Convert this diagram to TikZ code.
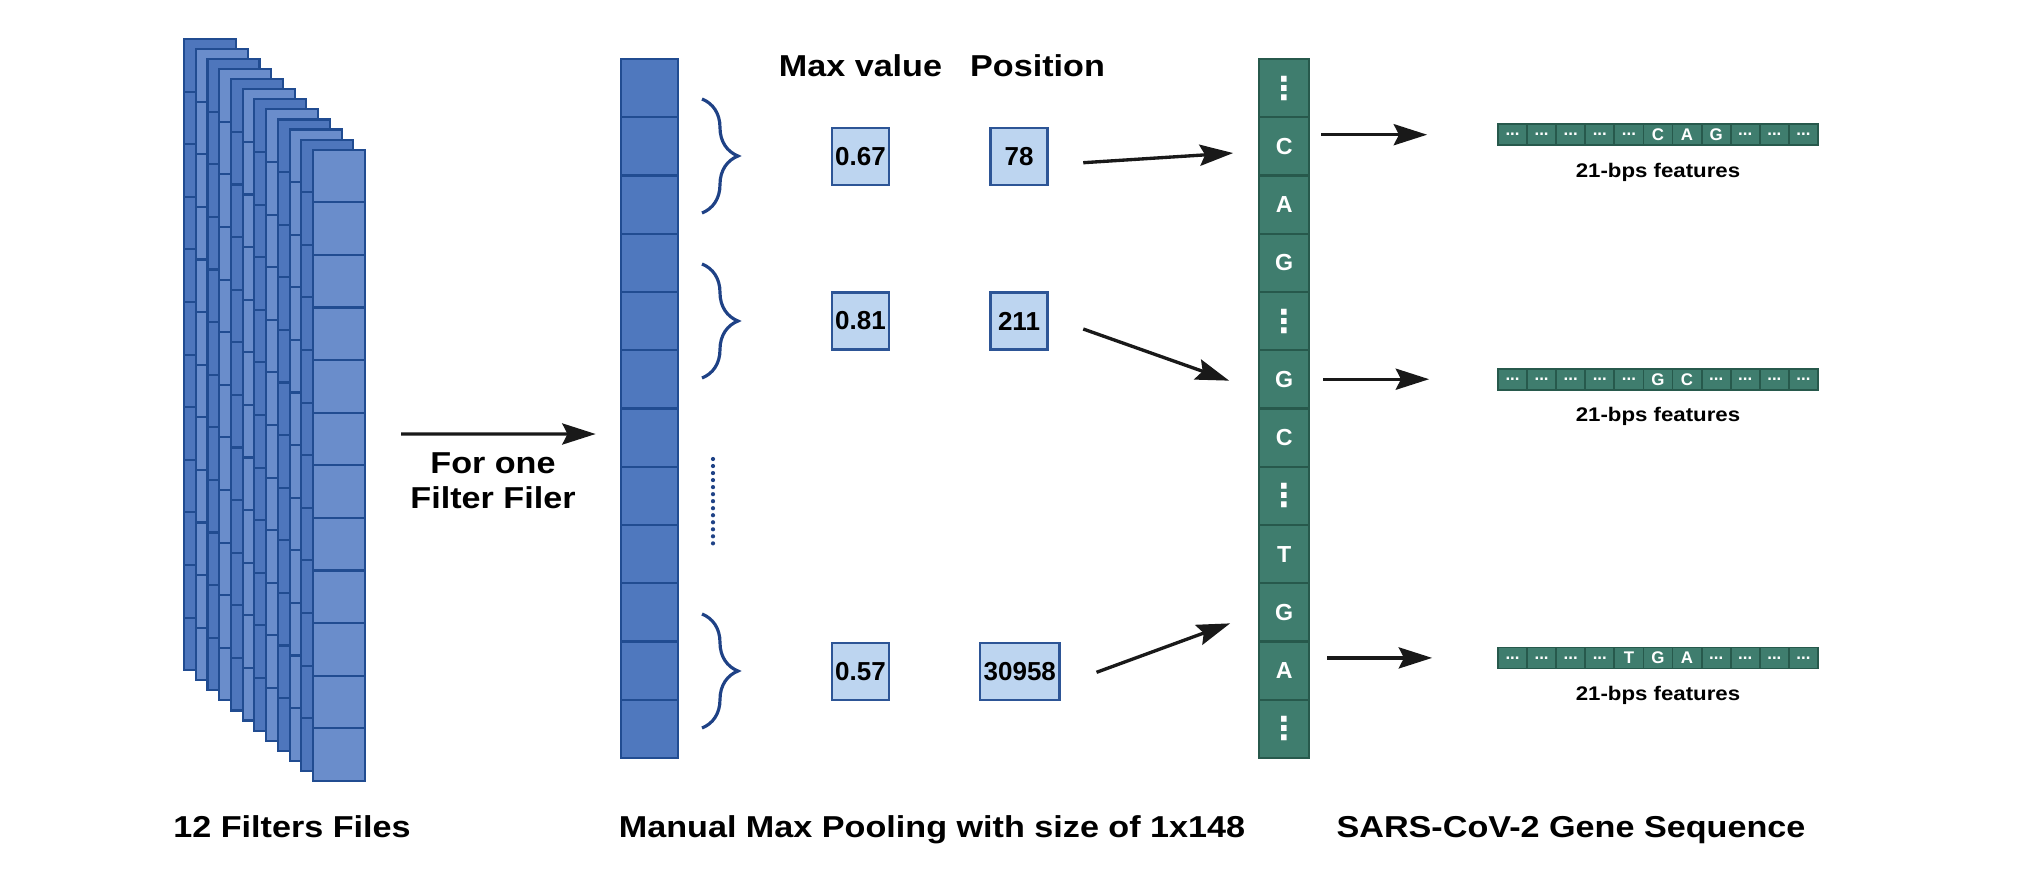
\documentclass[tikz,border=0pt]{standalone}
\usepackage{fontspec}
\setmainfont{Liberation Sans}
\newfontfamily\widefont[FakeStretch=1.13]{Liberation Sans}
\newfontfamily\dotsfont{DejaVu Sans}
\usetikzlibrary{arrows.meta,positioning,decorations.pathreplacing}
\definecolor{filtdark}{RGB}{78,118,188}
\definecolor{filtlight}{RGB}{106,141,203}
\definecolor{filtline}{RGB}{33,76,145}
\definecolor{poolblue}{RGB}{79,120,190}
\definecolor{valfill}{RGB}{189,213,240}
\definecolor{valline}{RGB}{45,85,150}
\definecolor{genegreen}{RGB}{63,125,110}
\definecolor{geneline}{RGB}{39,89,76}
\definecolor{bracecol}{RGB}{31,66,134}
\newcommand{\gdots}{{\dotsfont\fontsize{9}{9}\selectfont ⋮}}
\newcommand{\fdots}{...}

\begin{document}
\begin{tikzpicture}[x=0.1mm, y=-0.1mm,
        fcell/.style={draw=filtline, line width=0.6pt, minimum width=5.2mm, minimum height=5.26mm, inner sep=0},
        pcell/.style={draw=filtline, fill=poolblue, line width=0.6pt, minimum width=5.7mm, minimum height=5.825mm, inner sep=0},
        valbox/.style={draw=valline, fill=valfill, line width=0.6pt, minimum width=5.7mm, minimum height=5.7mm, inner sep=1pt, font=\fontsize{7.4}{8}\selectfont\bfseries},
        gcell/.style={draw=geneline, fill=genegreen, line width=0.6pt, minimum width=5mm, minimum height=5.825mm, inner sep=0, text=white, font=\fontsize{6.6}{7}\selectfont\bfseries},
        fbox/.style={draw=geneline, fill=genegreen, line width=0.5pt, minimum width=2.91mm, minimum height=2.1mm, inner sep=0, text=white, font=\fontsize{4.8}{5}\selectfont\bfseries},
        title/.style={font=\widefont\fontsize{8.6}{10}\selectfont\bfseries, inner sep=0},
        flabel/.style={font=\widefont\fontsize{5.6}{6}\selectfont\bfseries, inner sep=0},
        arrow/.style={-{Stealth[length=9.5pt, width=6pt, inset=1.5pt]}, line width=0.95pt, draw=black!90},
        brace/.style={decorate, decoration={brace, amplitude=3.6mm}, draw=bracecol, line width=0.9pt},
    ]
        \fill[white] (0,0) rectangle (2029,882);
        \useasboundingbox (0,0) rectangle (2029,882);

        % Filter stack (12 filters, back to front)
        \foreach \i in {0,...,11} {
            \ifodd\i \def\fcol{filtlight}\else \def\fcol{filtdark}\fi
            \foreach \j in {0,...,11}
                \node[fcell, fill=\fcol] (f\i-\j) at ({210+11.73*\i}, {39+10.06*\i+26.3+52.6*\j}) {};
        }

        % Pooling column
        \foreach \j in {0,...,11}
            \node[pcell] (pool\j) at (649.2, {88.1+58.25*\j}) {};

        % Braces and dotted gap
        \draw[brace] (702,99) -- (702,213);
        \draw[brace] (702,264) -- (702,378);
        \draw[brace] (702,614) -- (702,728);
        \draw[bracecol, line width=1.2pt, line cap=round, dash pattern=on 0pt off 2pt] (713,459) -- (713,545);

        % Max value / position boxes
        \node[title, anchor=base] (hmax) at (860.5,76) {Max value};
        \node[title, anchor=base] (hpos) at (1037.5,76) {Position};
        \node[valbox] (mx1) at (860.5,156.5) {0.67};
        \node[valbox] (ps1) at (1019,156.5) {78};
        \node[valbox] (mx2) at (860.5,321) {0.81};
        \node[valbox] (ps2) at (1019,321) {211};
        \node[valbox] (mx3) at (860.5,671.5) {0.57};
        \node[valbox] (ps3) at (1019.8,671.5) {30958};

        % Gene sequence column
        \foreach \b [count=\j from 0] in {\gdots,C,A,G,\gdots,G,C,\gdots,T,G,A,\gdots}
            \node[gcell] (g\j) at (1284.2, {88.1+58.25*\j}) {\b};

        % 21-bps feature rows
        \foreach \b [count=\k] in {\fdots,\fdots,\fdots,\fdots,\fdots,C,A,G,\fdots,\fdots,\fdots}
            \node[fbox] (ra\k) at ({1483.45+29.09*\k}, 134.7) {\b};
        \foreach \b [count=\k] in {\fdots,\fdots,\fdots,\fdots,\fdots,G,C,\fdots,\fdots,\fdots,\fdots}
            \node[fbox] (rb\k) at ({1483.45+29.09*\k}, 379.2) {\b};
        \foreach \b [count=\k] in {\fdots,\fdots,\fdots,\fdots,T,G,A,\fdots,\fdots,\fdots,\fdots}
            \node[fbox] (rc\k) at ({1483.45+29.09*\k}, 657.9) {\b};
        \node[flabel, below=1.6mm of ra6] (la) {21-bps features};
        \node[flabel, below=1.6mm of rb6] (lb) {21-bps features};
        \node[flabel, below=1.6mm of rc6] (lc) {21-bps features};

        % Arrows
        \draw[arrow] ([shift={(35,-5)}]f11-5.east) -- ([shift={(-24,-3.6)}]pool6.west);
        \node[title, align=center, anchor=north] (forone) at (493,452) {For one\\Filter Filer};
        \draw[arrow] ([shift={(34.7,6.2)}]ps1.east) -- ([shift={(-25,6.7)}]g1.west);
        \draw[arrow] ([shift={(34.7,8)}]ps2.east) -- ([shift={(-29,1.3)}]g5.west);
        \draw[arrow] ([shift={(36,0.8)}]ps3.east) -- ([shift={(-28,11)}]g9.west);
        \draw[arrow, shorten <=1.1mm, shorten >=7mm] (g1.east |- ra1.west) -- (ra1.west);
        \draw[arrow, shorten <=1.3mm, shorten >=6.8mm] (g5.east |- rb1.west) -- (rb1.west);
        \draw[arrow, shorten <=1.7mm, shorten >=6.5mm] (g10.east |- rc1.west) -- (rc1.west);

        % Titles
        \node[title, anchor=base] (t1) at (292,837) {12 Filters Files};
        \node[title, anchor=base] (t2) at (932,837) {Manual Max Pooling with size of 1x148};
        \node[title, anchor=base] (t3) at (1571,837) {SARS-CoV-2 Gene Sequence};
    \end{tikzpicture}
\end{document}
